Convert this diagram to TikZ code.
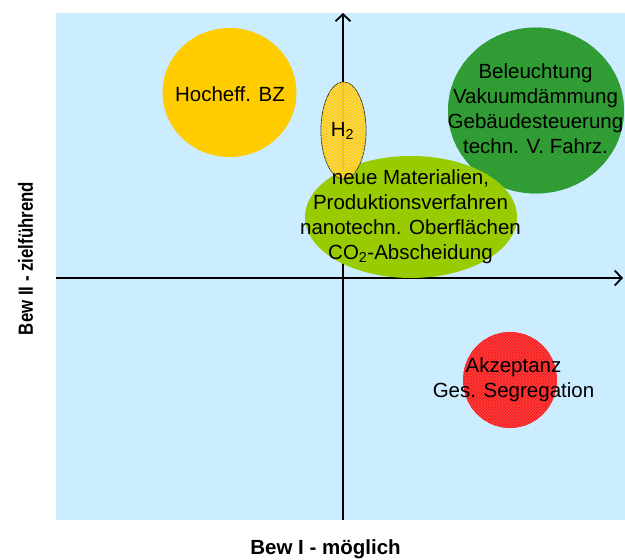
\documentclass[tikz,border=0pt]{standalone}
\usepackage{fontspec}
\setmainfont{Liberation Sans}
\usetikzlibrary{shapes.geometric,arrows.meta,patterns}

\definecolor{bgblue}{HTML}{CCECFF}
\definecolor{bzyellow}{HTML}{FFCC00}
\definecolor{hyellow}{HTML}{F8D860}
\definecolor{darkgreen}{HTML}{2F9636}
\definecolor{limegreen}{HTML}{99CC00}
\definecolor{softred}{HTML}{F24848}

\begin{document}
\begin{tikzpicture}[
    x=1pt, y=-1pt,
    bubble/.style={
        ellipse,
        inner sep=0pt,
        draw=none
    },
    itemtext/.style={
        font=\fontsize{20.5}{25}\selectfont,
        align=center,
        inner sep=0pt
    },
    axis/.style={
        line width=1.8pt,
        -{Straight Barb[length=7pt,width=15pt,line width=1.8pt]}
    },
    axistitle/.style={
        font=\fontsize{20.5}{25}\selectfont\bfseries,
        inner sep=0pt
    }
]

\useasboundingbox (0,0) rectangle (625,560);

% plot area
\fill[bgblue] (56,13) rectangle (625,520);

% axes
\coordinate (xstart) at (56,278);
\coordinate (xend) at (623,278);
\coordinate (ybot) at (343,520);
\coordinate (ytop) at (343,13);
\draw[axis] (xstart) -- (xend);
\draw[axis] (ybot) -- (ytop);

% bubbles
\node[bubble, fill=bzyellow, minimum width=134pt, minimum height=129pt] (bz) at (229.5,92.5) {};
\node[bubble, fill=darkgreen, minimum width=176pt, minimum height=166pt,
      postaction={pattern=crosshatch, pattern color=green!55!black!80}] (geb) at (536,110.5) {};
\node[bubble, fill=limegreen, minimum width=212pt, minimum height=122pt] (mat) at (411,217) {};
\node[bubble, fill=hyellow, fill opacity=0.88, draw=black!85, line width=0.8pt,
      minimum width=45pt, minimum height=97pt,
      postaction={pattern=crosshatch, pattern color=bzyellow}] (wst) at (343.5,130.5) {};
\node[bubble, fill=softred, minimum width=94pt, minimum height=96pt,
      postaction={pattern=crosshatch, pattern color=red!90}] (akz) at (510,380) {};

% texts
\node[itemtext] (bzt) at (230,94) {Hocheff. BZ};
\node[itemtext] (gebt) at (535.5,109) {Beleuchtung\\Vakuumdämmung\\Gebäudesteuerung\\techn. V. Fahrz.};
\node[itemtext] (matt) at (410.5,217) {neue Materialien,\\Produktionsverfahren\\nanotechn. Oberflächen\\CO\textsubscript{2}-Abscheidung};
\node[itemtext] (wstt) at (342.5,131) {H\textsubscript{2}};
\node[itemtext] (akzt) at (513.5,380) {Akzeptanz\\Ges. Segregation};

% axis titles
\node[axistitle] (xtitle) at (325.5,549) {Bew I - möglich};
\node[axistitle, rotate=90] (ytitle) at (25.5,258.5) {\scalebox{0.82}[1]{Bew II - zielführend}};

\end{tikzpicture}
\end{document}
